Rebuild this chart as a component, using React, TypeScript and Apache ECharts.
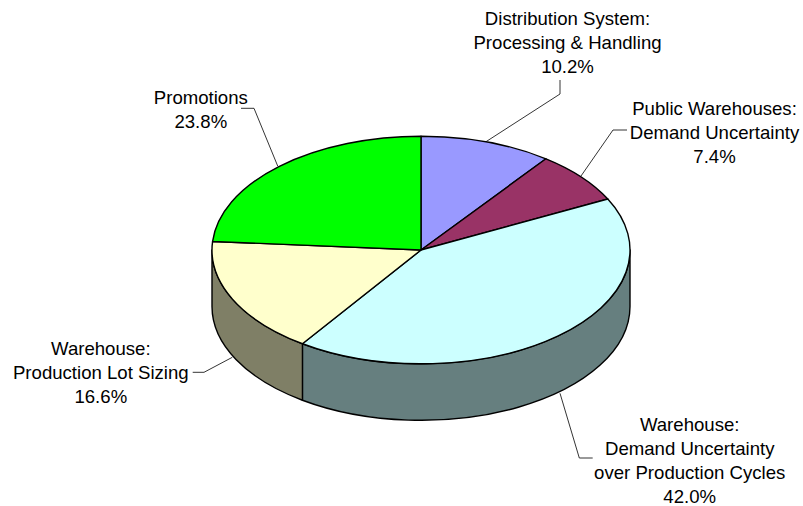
import React, { useEffect, useRef } from "react";
import * as echarts from "echarts";

const sliceNames = [
  "Distribution System:\nProcessing & Handling",
  "Public Warehouses:\nDemand Uncertainty",
  "Warehouse:\nDemand Uncertainty\nover Production Cycles",
  "Warehouse:\nProduction Lot Sizing",
  "Promotions",
];
const sliceValues = [10.2, 7.4, 42.0, 16.6, 23.8];
const topColors = ["#9999FF", "#993366", "#CCFFFF", "#FFFFCC", "#00FF00"];
const sideColors = ["#4C4C7F", "#4C1933", "#667F7F", "#7F7F66", "#007F00"];

const CX = 421;
const CY = 250;
const RX = 209;
const RY = 113.8;
const DEPTH = 56.5;
const FONT = '"Liberation Sans", Arial, sans-serif';

const labelPlacement = [
  { x: 567.5, y: 42, line: [[560, 80], [560, 94], [486, 141.7]] },
  { x: 714.5, y: 132, line: [[627, 130], [613, 130], [581, 176]] },
  { x: 689.7, y: 460, line: [[560, 393.3], [579.3, 458], [592.7, 458]] },
  { x: 100.8, y: 372, line: [[192.7, 372.3], [204, 372.3], [232.3, 357.3]] },
  { x: 200.8, y: 109.5, line: [[241, 108.3], [254, 108.3], [277.7, 166]] },
];

const pt = (deg: number, dy = 0) => {
  const t = (deg * Math.PI) / 180;
  return [CX + RX * Math.sin(t), CY - RY * Math.cos(t) + dy];
};
const f = (n: number) => n.toFixed(2);

function topPath(a: number, b: number) {
  const p = pt(a);
  const q = pt(b);
  const large = b - a > 180 ? 1 : 0;
  return `M${CX} ${CY}L${f(p[0])} ${f(p[1])}A${RX} ${RY} 0 ${large} 1 ${f(q[0])} ${f(q[1])}Z`;
}

function wallPath(a: number, b: number) {
  const p = pt(a);
  const q = pt(b);
  const q2 = pt(b, DEPTH);
  const p2 = pt(a, DEPTH);
  return `M${f(p[0])} ${f(p[1])}A${RX} ${RY} 0 0 1 ${f(q[0])} ${f(q[1])}L${f(q2[0])} ${f(q2[1])}A${RX} ${RY} 0 0 0 ${f(p2[0])} ${f(p2[1])}Z`;
}

export default function App() {
  const ref = useRef<HTMLDivElement>(null);
  useEffect(() => {
    document.body.style.margin = "0";
    const chart = echarts.init(ref.current!, undefined, { renderer: "svg" });
    const total = sliceValues.reduce((s, v) => s + v, 0);
    chart.setOption({
      animation: false,
      backgroundColor: "#ffffff",
      series: [
        {
          type: "custom",
          coordinateSystem: "none",
          silent: true,
          data: sliceValues.map((v) => [v]),
          renderItem: (params: any, api: any) => {
            const i = params.dataIndex;
            const before = sliceValues.slice(0, i).reduce((s, v) => s + v, 0);
            const a = (before / total) * 360;
            const b = a + (api.value(0) / total) * 360;
            const children: any[] = [];
            const wa = Math.max(a, 90);
            const wb = Math.min(b, 270);
            if (wb > wa) {
              children.push({
                type: "path",
                shape: { pathData: wallPath(wa, wb) },
                style: { fill: sideColors[i], stroke: "#000", lineWidth: 1.4, lineJoin: "round" },
              });
            }
            children.push({
              type: "path",
              shape: { pathData: topPath(a, b) },
              style: { fill: topColors[i], stroke: "#000", lineWidth: 1.4, lineJoin: "round" },
            });
            return { type: "group", children };
          },
        },
      ],
      graphic: labelPlacement.flatMap((p, i) => [
        {
          type: "polyline",
          silent: true,
          shape: { points: p.line },
          style: { fill: "none", stroke: "#000", lineWidth: 0.8 },
        },
        {
          type: "text",
          silent: true,
          x: p.x,
          y: p.y,
          style: {
            text: `${sliceNames[i]}\n${sliceValues[i].toFixed(1)}%`,
            font: `18.6px ${FONT}`,
            lineHeight: 24,
            fill: "#000",
            align: "center",
            verticalAlign: "middle",
          },
        },
      ]),
    });
    return () => chart.dispose();
  }, []);
  return <div ref={ref} style={{ width: 803, height: 506 }} />;
}
